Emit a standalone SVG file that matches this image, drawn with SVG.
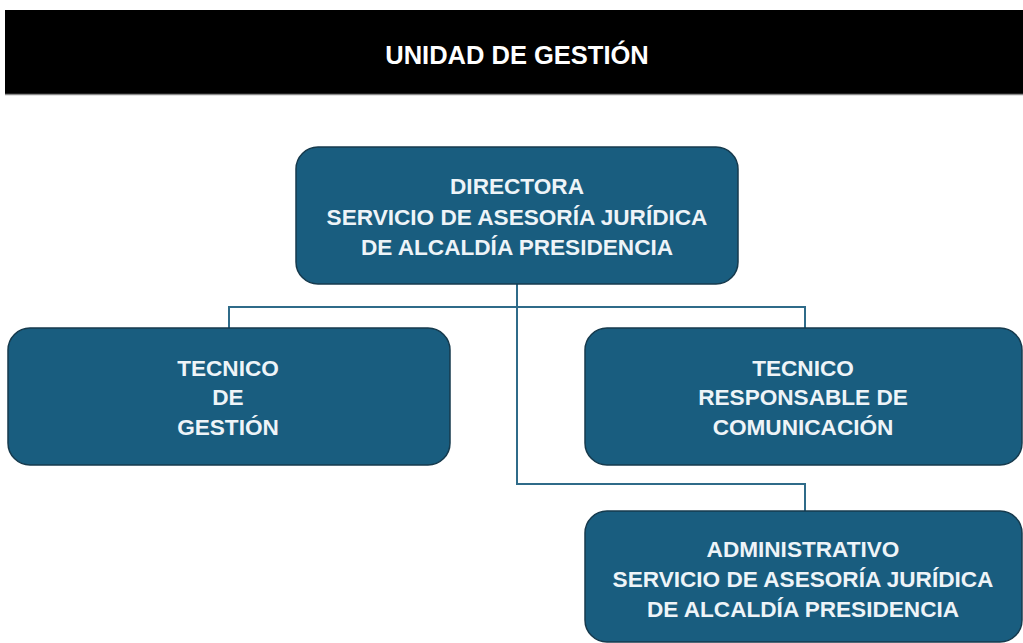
<svg xmlns="http://www.w3.org/2000/svg" width="1023" height="643" viewBox="0 0 1023 643">
<style>
.box{fill:#195d7f;stroke:#163a4d;stroke-width:1.5}
.t{font-family:"Liberation Sans",Arial,sans-serif;font-weight:bold;font-size:22.6px;fill:#eef4f8;text-anchor:middle}
.title{font-family:"Liberation Sans",Arial,sans-serif;font-weight:bold;font-size:25.5px;fill:#ffffff;text-anchor:middle}
.c{fill:none;stroke:#2f6b89;stroke-width:2}
</style>
<rect width="1023" height="643" fill="#ffffff"/>
<g id="header">
<rect x="5" y="10" width="1018" height="84" fill="#000000"/>
<line x1="5" y1="94.5" x2="1023" y2="94.5" stroke="#8a8a8a" stroke-width="1.5"/>
<text class="title" x="517" y="64">UNIDAD DE GESTIÓN</text>
</g>
<g id="connectors">
<polyline class="c" points="229,328 229,307 805,307 805,328"/>
<polyline class="c" points="517,284 517,484 805,484 805,511"/>
</g>
<g id="director">
<rect class="box" x="296" y="147" width="442" height="137" rx="22"/>
<text class="t" x="517" y="194">DIRECTORA</text>
<text class="t" x="517" y="225">SERVICIO DE ASESORÍA JURÍDICA</text>
<text class="t" x="517" y="255">DE ALCALDÍA PRESIDENCIA</text>
</g>
<g id="tecnico-gestion">
<rect class="box" x="8" y="328" width="442" height="137" rx="22"/>
<text class="t" x="228" y="376">TECNICO</text>
<text class="t" x="228" y="405">DE</text>
<text class="t" x="228" y="435">GESTIÓN</text>
</g>
<g id="tecnico-comunicacion">
<rect class="box" x="585" y="328" width="437" height="137" rx="22"/>
<text class="t" x="803" y="376">TECNICO</text>
<text class="t" x="803" y="405">RESPONSABLE DE</text>
<text class="t" x="803" y="435">COMUNICACIÓN</text>
</g>
<g id="administrativo">
<rect class="box" x="585" y="511" width="437" height="131" rx="22"/>
<text class="t" x="803" y="557">ADMINISTRATIVO</text>
<text class="t" x="803" y="587">SERVICIO DE ASESORÍA JURÍDICA</text>
<text class="t" x="803" y="617">DE ALCALDÍA PRESIDENCIA</text>
</g>
</svg>
